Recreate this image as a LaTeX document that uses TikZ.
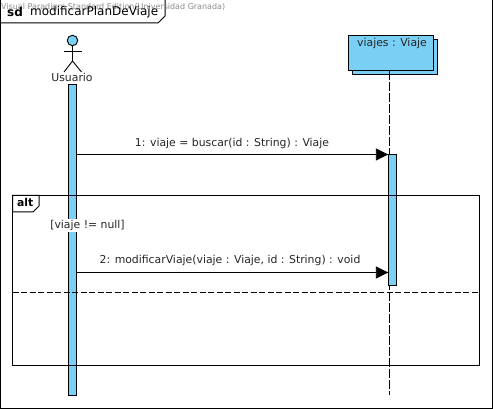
\documentclass[tikz,border=0pt]{standalone}
\usepackage{fontspec}
\setmainfont{DejaVu Sans}
\usepackage{tikz}
\usetikzlibrary{arrows.meta, positioning, calc}

\definecolor{barblue}{HTML}{7ACFF5}
\tikzset{
    barbox/.style={draw, fill=barblue, line width=1pt, minimum width=8pt, inner sep=0pt},
    objbox/.style={draw, fill=barblue, line width=1pt, minimum width=85pt, minimum height=35.5pt, inner sep=0pt},
    msg/.style={line width=0.9pt, -{Triangle[length=12.5pt, width=12pt]}, shorten >=0pt},
    msgtext/.style={font=\fontsize{10.85}{12}\selectfont, inner sep=0pt, text=black!85},
    framebox/.style={line width=1pt},
    lifeline/.style={line width=0.9pt, dash pattern=on 9pt off 2pt}
}

\begin{document}
\begin{tikzpicture}[x=1pt, y=-1pt]
    \useasboundingbox (0,0) rectangle (493,409);
    \fill[white] (0,0) rectangle (493,409);

    % outer frame
    \draw[framebox] (0.5,-2) rectangle (492,408);
    \draw[framebox] (0.5,23) -- (158,23) -- (165,16) -- (165,-2);
    \node[font=\fontsize{8}{9}\selectfont, text=black!45, inner sep=0pt, anchor=west] (watermark) at (1,7) {Visual Paradigm Standard Edition(Universidad Granada)};
    \node[font=\fontsize{12}{14}\selectfont\bfseries, inner sep=0pt, anchor=west] (sdlabel) at (7,12) {sd};
    \node[font=\fontsize{12}{14}\selectfont, inner sep=0pt, anchor=west] (sdname) at (30,12) {modificarPlanDeViaje};

    % lifelines
    \node[barbox, minimum height=310.5pt, anchor=north] (usuarioBar) at (72.5,84.5) {};
    \coordinate (viajesEnd) at (389,395);
    \node[objbox, anchor=north west] (viajesBack) at (351.5,39) {};
    \node[objbox, anchor=north west] (viajes) at (347.5,35) {};
    \node[msgtext, anchor=center] (viajesLabel) at (392,43.5) {viajes : Viaje};
    \draw[lifeline] (viajes.south -| viajesEnd) -- (viajesEnd);
    \node[barbox, minimum height=131pt, anchor=north west] (viajesAct) at (388.3,154) {};

    % actor
    \node[circle, draw, fill=barblue, line width=0.9pt, minimum size=10.5pt, inner sep=0pt] (usuarioHead) at (72.5,40.5) {};
    \coordinate (usuarioHip) at (72.5,61);
    \draw[line width=0.9pt] (usuarioHead) -- (usuarioHip);
    \draw[line width=0.9pt] (63.5,51) -- (81.5,51);
    \draw[line width=0.9pt] (64,72) -- (usuarioHip) -- (81.5,72);
    \node[msgtext, anchor=center] (usuarioLabel) at (72,77.5) {Usuario};

    % messages
    \coordinate (m1) at (0,154.5);
    \coordinate (m2) at (0,272.5);
    \draw[msg] (usuarioBar.east |- m1) -- (viajesAct.west |- m1);
    \draw[msg] (usuarioBar.east |- m2) -- (viajesAct.west |- m2);
    \node[msgtext] (m1label) at (232,144) {1: viaje = buscar(id : String) : Viaje};
    \node[msgtext] (m2label) at (230,261) {2: modificarViaje(viaje : Viaje, id : String) : void};

    % alt fragment
    \draw[framebox] (12.5,195.5) rectangle (479.5,365);
    \draw[framebox, fill=white] (12.5,195.5) -- (39,195.5) -- (39,206) -- (33,212) -- (12.5,212) -- cycle;
    \node[font=\fontsize{10.8}{12}\selectfont\bfseries, inner sep=0pt, anchor=west] (altlabel) at (17,202.5) {alt};
    \draw[line width=0.9pt, dash pattern=on 6pt off 2.5pt] (12.5,292.5) -- (479.5,292.5);
    \node[msgtext, fill=white, inner xsep=0.5pt, inner ysep=1pt] (guard) at (87.5,225.5) {[viaje != null]};
\end{tikzpicture}
\end{document}
